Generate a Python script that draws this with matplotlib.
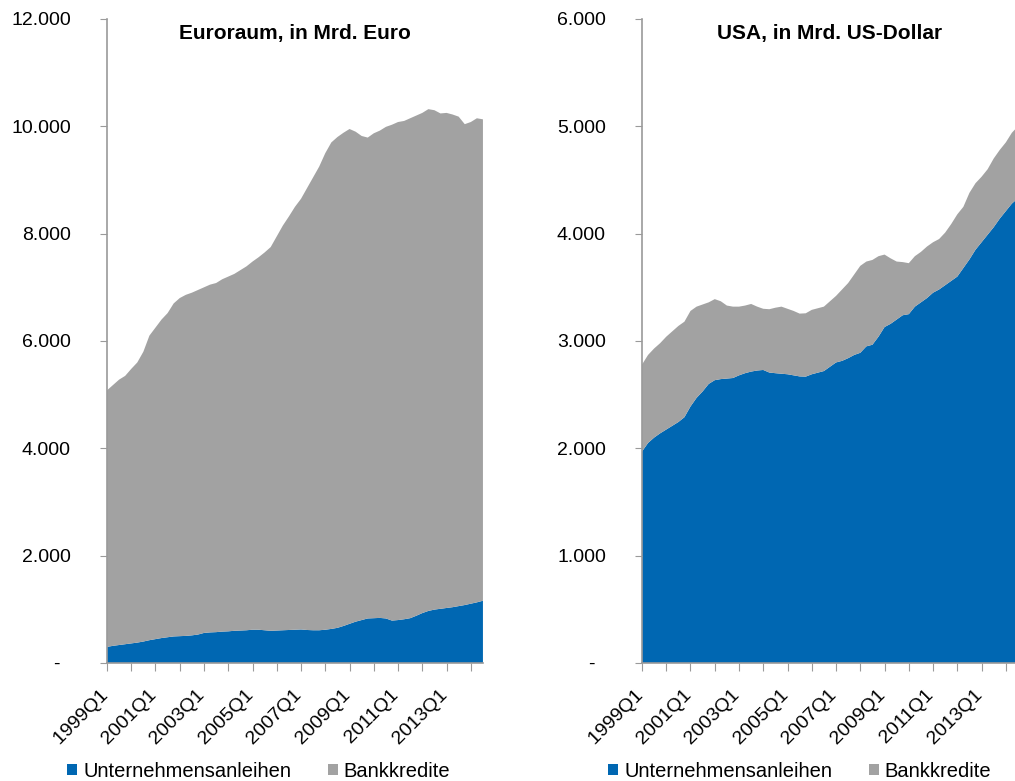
import matplotlib
matplotlib.use("Agg")
import matplotlib.pyplot as plt
import numpy as np
from matplotlib.ticker import FuncFormatter

plt.rcParams['font.family'] = ['Liberation Sans', 'DejaVu Sans']

# quarters 1999Q1 .. 2014Q3
quarters = [f"{y}Q{q}" for y in range(1999, 2015) for q in range(1, 5)][:63]

# =========================
# EURORAUM (Mrd. Euro)
# =========================
eu_anleihen = [300, 320, 335, 350, 365, 380, 400, 425, 445, 465,
               480, 495, 500, 505, 515, 530, 560, 570, 575, 585,
               590, 600, 605, 610, 620, 620, 610, 600, 605, 610,
               615, 620, 625, 615, 610, 610, 620, 635, 655, 690,
               730, 770, 800, 830, 835, 840, 830, 790, 800, 815,
               835, 880, 930, 970, 995, 1010, 1025, 1040, 1060, 1080,
               1105, 1130, 1160]
eu_bankkredite = [4780, 4860, 4945, 5000, 5115, 5220, 5400, 5675, 5805, 5935,
                  6040, 6205, 6300, 6355, 6385, 6420, 6440, 6480, 6505, 6565,
                  6610, 6650, 6715, 6780, 6860, 6940, 7040, 7150, 7345, 7540,
                  7705, 7880, 8025, 8235, 8440, 8640, 8880, 9065, 9145, 9190,
                  9220, 9130, 9020, 8960, 9035, 9080, 9160, 9240, 9280, 9285,
                  9315, 9320, 9320, 9350, 9305, 9230, 9225, 9180, 9120, 8960,
                  8975, 9020, 8970]

# =========================
# USA (Mrd. US-Dollar)
# =========================
us_anleihen = [1970, 2050, 2100, 2140, 2175, 2210, 2245, 2290, 2390, 2470,
               2530, 2600, 2635, 2645, 2650, 2655, 2680, 2700, 2715, 2725,
               2730, 2706, 2700, 2695, 2690, 2680, 2670, 2668, 2690, 2705,
               2720, 2760, 2800, 2815, 2840, 2870, 2890, 2950, 2965, 3040,
               3130, 3160, 3200, 3240, 3250, 3320, 3360, 3400, 3450, 3480,
               3520, 3560, 3600, 3680, 3760, 3850, 3920, 3990, 4060, 4140,
               4210, 4280, 4330]
us_bankkredite = [810, 820, 830, 840, 865, 880, 895, 890, 890, 850,
                  810, 760, 755, 725, 680, 665, 640, 630, 630, 595,
                  570, 590, 610, 625, 610, 600, 585, 590, 600, 600,
                  600, 610, 620, 665, 700, 750, 810, 790, 790, 750,
                  675, 610, 540, 495, 475, 470, 470, 480, 470, 470,
                  490, 530, 580, 570, 620, 620, 610, 610, 640, 640,
                  640, 660, 670]

BLUE = '#0067B2'
GRAY = '#A2A2A2'
AXIS = '#9A9A9A'


def de_fmt(v, pos):
    if v == 0:
        return '-  '
    return f"{int(v):,}".replace(',', '.')


def draw_panel(ax, anleihen, bank, title, ymax, ystep):
    x = np.arange(len(quarters))
    ax.stackplot(x, anleihen, bank, colors=[BLUE, GRAY],
                 labels=['Unternehmensanleihen', 'Bankkredite'])
    ax.set_xlim(0, len(quarters) - 1)
    ax.set_ylim(0, ymax)
    ax.set_yticks(np.arange(0, ymax + 1, ystep))
    ax.yaxis.set_major_formatter(FuncFormatter(de_fmt))

    # tick mark every year, label every second year
    ticks = x[::4]
    ax.set_xticks(ticks)
    ax.set_xticklabels([quarters[i] + '  ' if i % 8 == 0 else '' for i in ticks],
                       rotation=45, ha='right', va='top', rotation_mode='anchor')

    for s in ['top', 'right']:
        ax.spines[s].set_visible(False)
    for s in ['left', 'bottom']:
        ax.spines[s].set_color(AXIS)
        ax.spines[s].set_linewidth(1.2)
    ax.tick_params(axis='y', colors=AXIS, labelcolor='black', length=5,
                   pad=21, labelsize=14)
    ax.tick_params(axis='x', colors=AXIS, labelcolor='black', length=6,
                   pad=6, labelsize=14)

    ax.text(0.5, 0.978, title, transform=ax.transAxes, ha='center', va='center',
            fontsize=15, fontweight='bold')


fig = plt.figure(figsize=(10.15, 7.81), dpi=100)
ax1 = fig.add_axes([0.1054, 0.1511, 0.3704, 0.8246])
ax2 = fig.add_axes([0.6325, 0.1511, 0.3704, 0.8246])

draw_panel(ax1, eu_anleihen, eu_bankkredite, 'Euroraum, in Mrd. Euro', 12000, 2000)
draw_panel(ax2, us_anleihen, us_bankkredite, 'USA, in Mrd. US-Dollar', 6000, 1000)

ax1.legend(loc='center', bbox_to_anchor=(0.404, -0.168), ncol=2, frameon=False,
           fontsize=14.5, handlelength=0.5, handleheight=0.5, handletextpad=0.3,
           columnspacing=1.8)
ax2.legend(loc='center', bbox_to_anchor=(0.42, -0.168), ncol=2, frameon=False,
           fontsize=14.5, handlelength=0.5, handleheight=0.5, handletextpad=0.3,
           columnspacing=1.8)

fig.savefig('out.png', dpi=100)
